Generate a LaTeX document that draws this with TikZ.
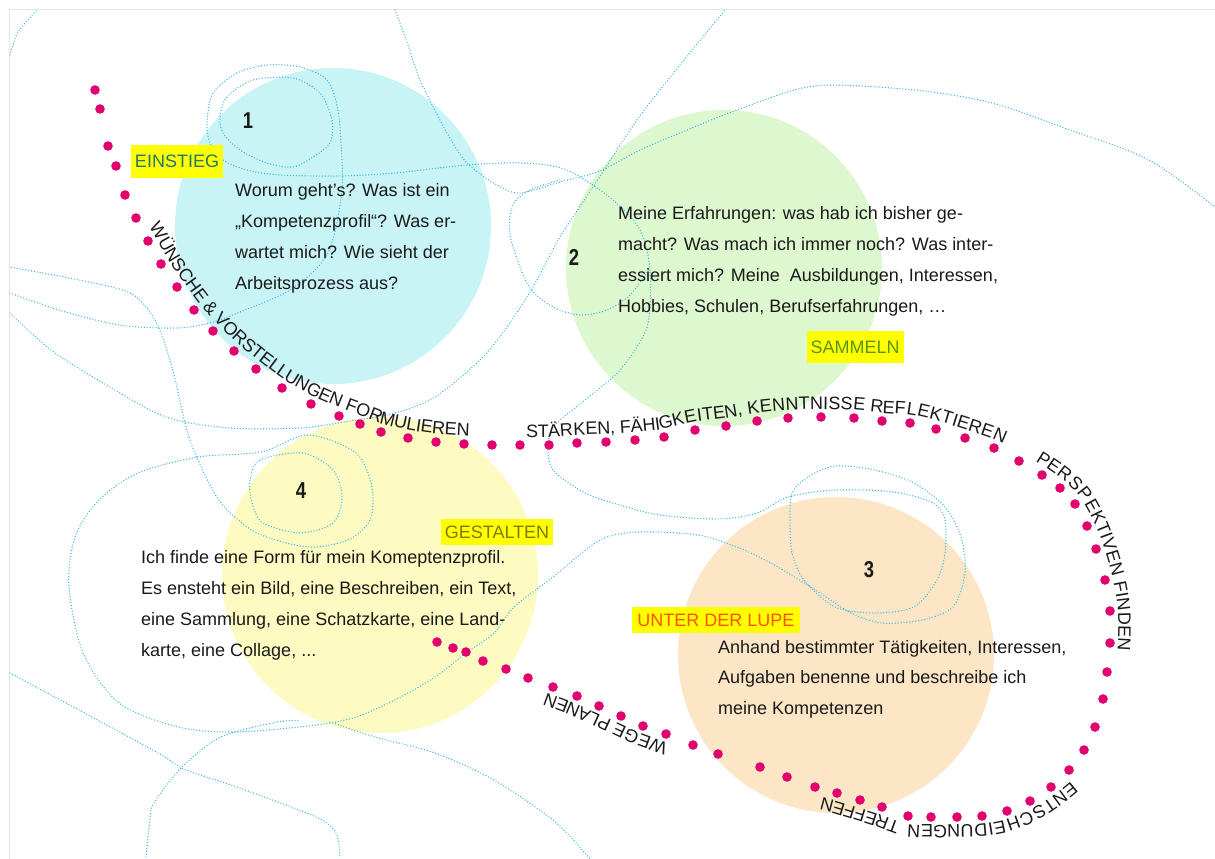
\documentclass[tikz,border=0pt]{standalone}
\usepackage{fontspec}
\setmainfont{Liberation Sans}
\newfontfamily\numfont{Liberation Sans}[FakeStretch=0.8]
\usetikzlibrary{decorations.text}

\definecolor{cyanfill}{HTML}{C8F4F6}
\definecolor{greenfill}{HTML}{DDF7CF}
\definecolor{yellowfill}{HTML}{FDFAC2}
\definecolor{peachfill}{HTML}{FDE6C6}
\definecolor{skyline}{HTML}{38B6E8}
\definecolor{dotpink}{HTML}{E2006E}
\definecolor{ink}{HTML}{1A1A1A}
\definecolor{labelbg}{HTML}{FFFF00}
\definecolor{tealtext}{HTML}{22786A}
\definecolor{greentext}{HTML}{5A9614}
\definecolor{olivetext}{HTML}{7E7A0A}
\definecolor{orangetext}{HTML}{FF5200}
\definecolor{framegray}{HTML}{E4E4E4}

\begin{document}
\begin{tikzpicture}[x=1pt,y=-1pt,
  bubble/.style={circle, inner sep=0pt, minimum size=316pt},
  body/.style={anchor=base west, inner sep=0pt, text=ink, font=\fontsize{18}{20}\selectfont},
  num/.style={anchor=base, inner sep=0pt, text=ink, font=\numfont\bfseries\fontsize{23}{23}\selectfont},
  tag/.style={fill=labelbg, inner xsep=4pt, text height=13pt, text depth=0pt, font=\fontsize{18}{20}\selectfont},
  scrib/.style={draw=skyline, line width=1.4pt, dash pattern=on 0pt off 2.9pt, line cap=round},
  along/.style={decorate, decoration={text along path, raise=8pt, text color=ink, text align=left, text={#1}}}
]
\useasboundingbox (0,0) rectangle (1215,859);
\fill[white] (0,0) rectangle (1215,859);
\draw[framegray, line width=0.8pt] (9,859) -- (9,9) -- (1215,9);

% circles
\node[bubble, fill=cyanfill] (c1) at (333,226) {};
\node[bubble, fill=greenfill] (c2) at (724,268) {};
\node[bubble, fill=peachfill] (c3) at (836,655) {};
\node[bubble, fill=yellowfill] (c4) at (380,575) {};

% blue dotted scribbles
\draw[scrib] plot[smooth] coordinates {(10,55) (18,32) (37,10)};
\draw[scrib] plot[smooth] coordinates {(395,10) (408,45) (420,80) (447,133) (467,163) (497,185) (520,193) (560,182) (600,171) (640,150) (680,133) (737,110) (814,86) (914,90) (992,103) (1070,130) (1149,160) (1215,207)};
\draw[scrib] plot[smooth] coordinates {(10,293) (59,310) (119,325) (178,328) (213,322) (245,310) (285,293) (312,273) (328,253) (336,227) (342,190) (342,160) (338,110) (327,80) (300,67) (267,65) (237,73) (213,93) (207,123) (210,143) (223,160) (247,170) (280,175) (340,176) (395,173) (467,165) (523,163) (567,170) (613,200) (640,230) (650,270) (647,327) (620,370) (585,400) (555,425) (548,445) (553,470) (585,493) (620,505) (660,515) (718,519) (757,513) (788,497) (835,490) (894,492) (933,503) (945,520) (945,553) (937,580) (914,607) (875,613) (835,607) (804,580) (792,553) (790,520) (792,493) (808,477) (835,466) (875,470) (914,483) (945,507) (961,537) (965,573) (953,607) (922,620) (882,623) (851,613) (820,593) (788,573) (765,560) (737,547) (698,535) (639,532) (600,540) (553,577) (514,607) (494,633) (466,653) (435,677) (395,700) (356,717) (316,725) (237,732) (178,727) (119,703) (83,653) (69,587) (75,537) (99,500) (138,473) (198,457) (261,452) (308,435) (356,453) (372,487) (370,520) (348,540) (308,547) (257,533) (221,503) (198,460) (186,427) (172,367) (155,320) (130,293) (79,280) (10,267)};
\draw[scrib] plot[smooth cycle] coordinates {(220,117) (227,97) (253,80) (293,78) (320,93) (332,120) (330,143) (313,157) (293,167) (267,163) (240,150) (223,133)};
\draw[scrib] plot[smooth cycle] coordinates {(250,480) (260,460) (303,453) (333,470) (342,497) (333,523) (300,533) (263,523) (252,503)};
\draw[scrib] plot[smooth] coordinates {(560,180) (530,190) (513,205) (510,235) (528,285) (553,307) (580,315) (607,310) (630,295) (650,268)};
\draw[scrib] plot[smooth] coordinates {(10,313) (51,350) (103,383) (166,417) (230,428) (300,428) (344,422) (395,413) (435,397) (480,360) (507,327) (533,287) (560,237) (593,187) (637,120) (680,65) (725,10)};
\draw[scrib] plot[smooth] coordinates {(10,673) (79,710) (158,753) (186,770) (237,787) (316,817) (336,833) (340,857)};
\draw[scrib] plot[smooth] coordinates {(146,857) (150,820) (154,803) (182,767) (221,737) (277,722) (300,721)};
\draw[scrib] plot[smooth] coordinates {(330,722) (375,737) (435,753) (494,780) (553,820) (585,853) (590,859)};

% numbers
\node[num] (n1) at (248,128) {1};
\node[num] (n2) at (574,265) {2};
\node[num] (n3) at (869,577) {3};
\node[num] (n4) at (301,498) {4};

% body texts
\node[body] (t1a) at (235,196) {Worum geht’s? Was ist ein};
\node[body] (t1b) at (235,227) {„Kompetenzprofil“? Was er-};
\node[body] (t1c) at (235,258) {wartet mich? Wie sieht der};
\node[body] (t1d) at (235,289) {Arbeitsprozess aus?};

\node[body] (t2a) at (618,219) {Meine Erfahrungen: was hab ich bisher ge-};
\node[body] (t2b) at (618,250) {macht? Was mach ich immer noch? Was inter-};
\node[body] (t2c) at (618,281) {essiert mich? Meine\ \ Ausbildungen, Interessen,};
\node[body] (t2d) at (618,312) {Hobbies, Schulen, Berufserfahrungen, …};

\node[body] (t4a) at (141,563) {Ich finde eine Form für mein Komeptenzprofil.};
\node[body] (t4b) at (141,594) {Es ensteht ein Bild, eine Beschreiben, ein Text,};
\node[body] (t4c) at (141,625) {eine Sammlung, eine Schatzkarte, eine Land-};
\node[body] (t4d) at (141,656) {karte, eine Collage, ...};

\node[body] (t3a) at (718,653) {Anhand bestimmter Tätigkeiten, Interessen,};
\node[body] (t3b) at (718,683) {Aufgaben benenne und beschreibe ich};
\node[body] (t3c) at (718,714) {meine Kompetenzen};

% yellow tags
\node[tag, inner ysep=10pt, text=tealtext] (g1) at (177,161) {EINSTIEG};
\node[tag, inner ysep=9.5pt, text=greentext] (g2) at (855,347) {SAMMELN};
\node[tag, inner ysep=6.5pt, text=olivetext] (g4) at (497,532) {GESTALTEN};
\node[tag, inner ysep=6.5pt, inner xsep=5pt, text=orangetext] (g3) at (716,620) {UNTER DER LUPE};

% pink dotted route
\foreach \p in {(95,90),(100,109),(108,146),(116,166),(125,195),(136,218),(148,241),(161,264),(177,287),(194,310),(213,331),(234,351),(256,369),(282,388),(311,404),(339,416),(360,424),(381,432),(408,438),(436,442),(464,444),(492,445),(520,445),(549,445),(577,443),(606,442),(635,440),(664,437),(695,430),(726,426),(757,421),(788,418),(821,417),(854,418),(882,421),(910,423),(936,429),(965,438),(994,448),(1019,461),(1042,475),(1060,488),(1075,504),(1087,526),(1096,549),(1105,580),(1110,611),(1110,643),(1107,672),(1103,699),(1095,727),(1084,750),(1069,770),(1051,787),(1030,801),(1007,811),(982,816),(957,817),(931,817),(908,816),(882,807),(860,800),(837,793),(815,787),(787,777),(760,767),(718,754),(693,745),(666,734),(643,726),(621,716),(599,706),(577,696),(553,687),(528,678),(506,669),(483,661),(466,652),(453,648),(437,642)}
  \fill[dotpink] \p circle[radius=4.8];

% curved labels
\path[along={|\fontsize{18}{18}\selectfont|WÜNSCHE {\&} VORSTELLUNGEN FORMULIEREN}]
  plot[smooth] coordinates {(142,231) (148,241) (161,264) (177,287) (194,310) (213,331) (234,351) (256,369) (282,388) (311,404) (339,416) (360,424) (381,432) (408,438) (436,442) (464,444) (492,445) (520,445) (549,445)};
\path[along={|\fontsize{18}{18}\selectfont|STÄRKEN, FÄHIGKEITEN, KENNTNISSE REFLEKTIEREN}]
  plot[smooth] coordinates {(526,445) (549,445) (577,443) (606,442) (635,440) (664,437) (695,430) (726,426) (757,421) (788,418) (821,417) (854,418) (882,421) (910,423) (936,429) (965,438) (994,448) (1019,461) (1042,475) (1060,488)};
\path[along={|\fontsize{18}{18}\selectfont|PERSPEKTIVEN FINDEN}]
  plot[smooth] coordinates {(1031,468) (1042,475) (1060,488) (1075,504) (1087,526) (1096,549) (1105,580) (1110,611) (1110,643) (1107,672) (1103,699)};
\path[along={|\fontsize{18}{18}\selectfont|ENTSCHEIDUNGEN TREFFEN}]
  plot[smooth] coordinates {(1066,775) (1051,787) (1030,801) (1007,811) (982,816) (957,817) (931,817) (908,816) (882,807) (860,800) (837,793) (815,787) (787,777) (760,767)};
\path[along={|\fontsize{18}{18}\selectfont|WEGE PLANEN}]
  plot[smooth] coordinates {(671,736) (643,726) (621,716) (599,706) (577,696) (553,687) (528,678) (506,669)};
\end{tikzpicture}
\end{document}
